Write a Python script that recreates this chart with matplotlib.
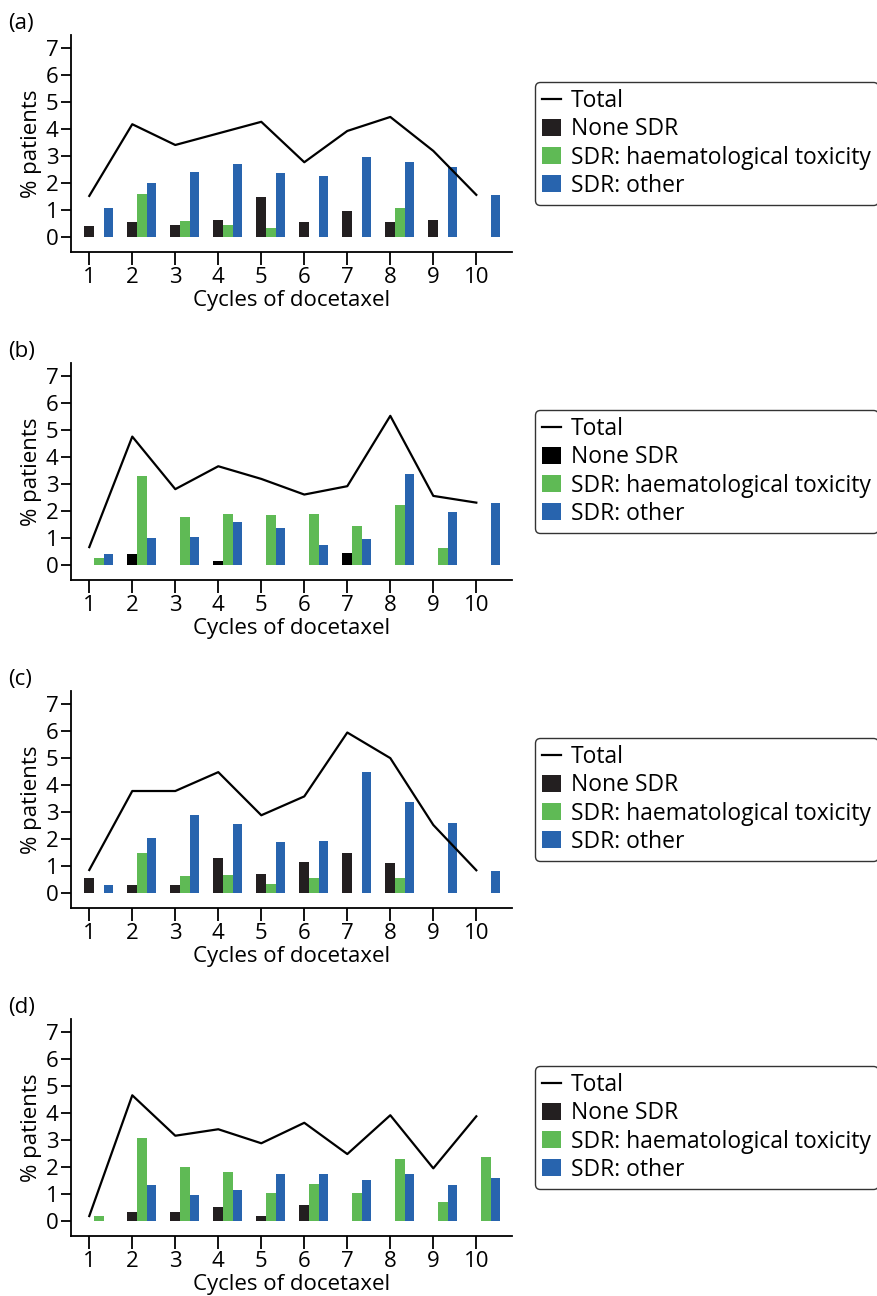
import matplotlib
matplotlib.use("Agg")
import matplotlib.pyplot as plt
import numpy as np
from matplotlib.patches import Patch
from matplotlib.lines import Line2D

plt.rcParams['font.family'] = ['Open Sans', 'DejaVu Sans']

cycles = [1, 2, 3, 4, 5, 6, 7, 8, 9, 10]
tick_labels = ["1", "2", "3", "4", "5", "6", "7", "8", "9", "10"]
panel_labels = ["(a)", "(b)", "(c)", "(d)"]
series_names = ["Total", "None SDR", "SDR: haematological toxicity", "SDR: other"]

# Panel (a)
total_a = [1.53, 4.19, 3.42, 3.85, 4.28, 2.78, 3.94, 4.46, 3.20, 1.57]
none_a = [0.42, 0.57, 0.46, 0.64, 1.49, 0.57, 0.98, 0.57, 0.64, 0.0]
haem_a = [0.0, 1.60, 0.60, 0.46, 0.35, 0.0, 0.0, 1.09, 0.0, 0.0]
other_a = [1.09, 2.01, 2.42, 2.72, 2.38, 2.27, 2.98, 2.79, 2.60, 1.57]

# Panel (b)
total_b = [0.67, 4.77, 2.82, 3.67, 3.20, 2.62, 2.93, 5.54, 2.57, 2.32]
none_b = [0.0, 0.41, 0.0, 0.15, 0.0, 0.0, 0.46, 0.0, 0.0, 0.0]
haem_b = [0.27, 3.31, 1.79, 1.90, 1.87, 1.90, 1.46, 2.24, 0.64, 0.0]
other_b = [0.42, 1.01, 1.05, 1.61, 1.38, 0.75, 0.98, 3.39, 1.98, 2.31]

# Panel (c)
total_c = [0.86, 3.79, 3.79, 4.49, 2.89, 3.59, 5.96, 5.01, 2.53, 0.85]
none_c = [0.57, 0.31, 0.31, 1.31, 0.72, 1.16, 1.49, 1.12, 0.0, 0.0]
haem_c = [0.0, 1.49, 0.64, 0.68, 0.35, 0.57, 0.0, 0.57, 0.0, 0.0]
other_c = [0.31, 2.05, 2.90, 2.57, 1.90, 1.94, 4.49, 3.38, 2.60, 0.83]

# Panel (d)
total_d = [0.19, 4.67, 3.17, 3.41, 2.89, 3.65, 2.49, 3.93, 1.96, 3.89]
none_d = [0.0, 0.33, 0.33, 0.52, 0.19, 0.59, 0.0, 0.0, 0.0, 0.0]
haem_d = [0.19, 3.07, 2.00, 1.81, 1.04, 1.37, 1.04, 2.30, 0.70, 2.37]
other_d = [0.0, 1.33, 0.96, 1.15, 1.74, 1.74, 1.52, 1.74, 1.33, 1.59]

panels = [
    (total_a, none_a, haem_a, other_a),
    (total_b, none_b, haem_b, other_b),
    (total_c, none_c, haem_c, other_c),
    (total_d, none_d, haem_d, other_d),
]

black_colors = ["#231F20", "#000000", "#231F20", "#231F20"]
green = "#5FBA55"
blue = "#2864AE"

W, H = 877, 1296
fig = plt.figure(figsize=(W / 100, H / 100), dpi=100)

tops = [35, 363, 691, 1019]
ax_h = 217
ax_left = 71
ax_w = 441
fs = 16

bw = 0.225
x = np.array(cycles, dtype=float)

for i, (tot, non, hae, oth) in enumerate(panels):
    top = tops[i]
    ax = fig.add_axes([ax_left / W, 1 - (top + ax_h) / H, ax_w / W, ax_h / H])
    ax.bar(x, non, width=bw, color=black_colors[i], align='center')
    ax.bar(x + bw, hae, width=bw, color=green, align='center')
    ax.bar(x + 2 * bw, oth, width=bw, color=blue, align='center')
    ax.plot(x, tot, color='black', lw=1.6)
    ax.set_xlim(0.575, 10.83)
    ax.set_ylim(-0.55, 7.5)
    ax.set_xticks(x)
    ax.set_xticklabels(tick_labels)
    ax.set_yticks(range(0, 8))
    for s in ['top', 'right']:
        ax.spines[s].set_visible(False)
    for s in ['left', 'bottom']:
        ax.spines[s].set_linewidth(1.3)
    ax.tick_params(axis='x', length=9, width=1.3, pad=2, labelsize=fs)
    ax.tick_params(axis='y', length=7, width=1.3, pad=2, labelsize=fs)
    ax.set_xlabel("Cycles of docetaxel", fontsize=fs, labelpad=1)
    ax.set_ylabel("% patients", fontsize=fs, labelpad=3)
    fig.text(8 / W, 1 - (top - 11) / H, panel_labels[i], fontsize=fs,
             ha='left', va='center')

    handles = [
        Line2D([0], [0], color='black', lw=1.6),
        Patch(facecolor=black_colors[i]),
        Patch(facecolor=green),
        Patch(facecolor=blue),
    ]
    leg = ax.legend(handles, series_names, loc='center left',
                    bbox_to_anchor=(1.053, 0.5), fontsize=16.5,
                    frameon=True, fancybox=True, edgecolor='black',
                    handlelength=0.8, handleheight=0.8, handletextpad=0.45,
                    labelspacing=0.18, borderpad=0.3, borderaxespad=0)
    leg.get_frame().set_linewidth(1.0)

fig.savefig("out.png", dpi=100)
